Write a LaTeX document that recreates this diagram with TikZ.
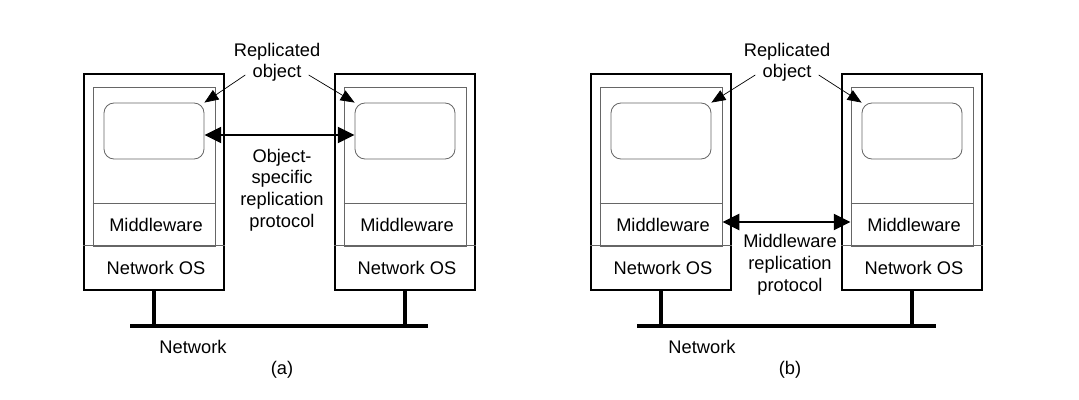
\documentclass[tikz,border=0pt]{standalone}
\usepackage{fontspec}
\setmainfont{Liberation Sans}
\usepackage{tikz}
\usetikzlibrary{arrows.meta,positioning}
\tikzset{machine/.style={draw=black,line width=1.5pt,minimum width=3.5cm,minimum height=5.4cm,inner sep=0pt},
  inbox/.style={draw=black!60,line width=0.6pt,minimum width=3.05cm,minimum height=3.975cm,inner sep=0pt},
  replica/.style={draw=black!60,line width=0.6pt,rounded corners=0.25cm,minimum width=2.5cm,minimum height=1.4cm,inner sep=0pt},
  mwlayer/.style={minimum width=3.05cm,minimum height=1.05cm,inner sep=0pt},
  oslayer/.style={minimum width=3.5cm,minimum height=1.1cm,inner sep=0pt},
  sep/.style={draw=black!60,line width=0.6pt},
  txt/.style={align=center,inner sep=2pt},
  pointer/.style={-{Triangle[length=0.35cm,width=0.28cm]},line width=0.5pt},
  protocol/.style={{Triangle[length=0.42cm,width=0.4cm]}-{Triangle[length=0.42cm,width=0.4cm]},line width=1.6pt},
  wire/.style={line width=2.2pt}}
\begin{document}
\begin{tikzpicture}[x=0.025cm, y=-0.025cm, font=\fontsize{13}{15.5}\selectfont]
        \useasboundingbox (0,0) rectangle (1079,400);
        % (a) object-specific replication
        \node[machine] (pcA1) at (154,182) {};
        \node[inbox] (inA1) at (154,166.5) {};
        \node[replica] (objA1) at (154,131) {};
        \node[mwlayer] (mwA1) at (156,225) {Middleware};
        \node[oslayer] (osA1) at (156,268) {Network OS};
        \draw[sep] (inA1.west |- mwA1.north) -- (inA1.east |- mwA1.north);
        \draw[sep] (pcA1.west |- osA1.north) -- (pcA1.east |- osA1.north);
        \node[machine] (pcA2) at (405,182) {};
        \node[inbox] (inA2) at (405,166.5) {};
        \node[replica] (objA2) at (405,131) {};
        \node[mwlayer] (mwA2) at (407,225) {Middleware};
        \node[oslayer] (osA2) at (407,268) {Network OS};
        \draw[sep] (inA2.west |- mwA2.north) -- (inA2.east |- mwA2.north);
        \draw[sep] (pcA2.west |- osA2.north) -- (pcA2.east |- osA2.north);
        \node[txt] (repA) at (277,52) {Replicated};
        \node[txt,inner sep=5pt] (robjA) at (277,73) {object};
        \draw[pointer] ([yshift=-0.05cm]robjA.west) -- (objA1.north east);
        \draw[pointer] ([yshift=-0.05cm]robjA.east) -- (objA2.north west);
        \draw[protocol] ([yshift=-0.1cm]objA1.east) -- ([yshift=-0.1cm]objA2.west);
        \node[txt] (protA) at (282,190) {Object-\\specific\\replication\\protocol};
        \coordinate (netA1) at (130,326);
        \coordinate (netA2) at (428,326);
        \draw[wire] (netA1) -- (netA2);
        \draw[wire] (pcA1.south) -- (pcA1.south |- netA1);
        \draw[wire] (pcA2.south) -- (pcA2.south |- netA2);
        \node[txt] (netlA) at (193,347) {Network};
        \node[txt] (capA) at (282,370) {(a)};
        % (b) middleware replication
        \node[machine] (pcB1) at (661,182) {};
        \node[inbox] (inB1) at (661,166.5) {};
        \node[replica] (objB1) at (661,131) {};
        \node[mwlayer] (mwB1) at (663,225) {Middleware};
        \node[oslayer] (osB1) at (663,268) {Network OS};
        \draw[sep] (inB1.west |- mwB1.north) -- (inB1.east |- mwB1.north);
        \draw[sep] (pcB1.west |- osB1.north) -- (pcB1.east |- osB1.north);
        \node[machine] (pcB2) at (912,182) {};
        \node[inbox] (inB2) at (912,166.5) {};
        \node[replica] (objB2) at (912,131) {};
        \node[mwlayer] (mwB2) at (914,225) {Middleware};
        \node[oslayer] (osB2) at (914,268) {Network OS};
        \draw[sep] (inB2.west |- mwB2.north) -- (inB2.east |- mwB2.north);
        \draw[sep] (pcB2.west |- osB2.north) -- (pcB2.east |- osB2.north);
        \node[txt] (repB) at (787,52) {Replicated};
        \node[txt,inner sep=5pt] (robjB) at (787,73) {object};
        \draw[pointer] ([yshift=-0.05cm]robjB.west) -- (objB1.north east);
        \draw[pointer] ([yshift=-0.05cm]robjB.east) -- (objB2.north west);
        \draw[protocol] ([yshift=0.075cm]inB1.east |- mwB1.east) -- ([yshift=0.075cm]inB2.west |- mwB2.west);
        \node[txt] (protB) at (790,265) {Middleware\\replication\\protocol};
        \coordinate (netB1) at (637,326);
        \coordinate (netB2) at (936,326);
        \draw[wire] (netB1) -- (netB2);
        \draw[wire] (pcB1.south) -- (pcB1.south |- netB1);
        \draw[wire] (pcB2.south) -- (pcB2.south |- netB2);
        \node[txt] (netlB) at (702,347) {Network};
        \node[txt] (capB) at (790,370) {(b)};
\end{tikzpicture}
\end{document}
